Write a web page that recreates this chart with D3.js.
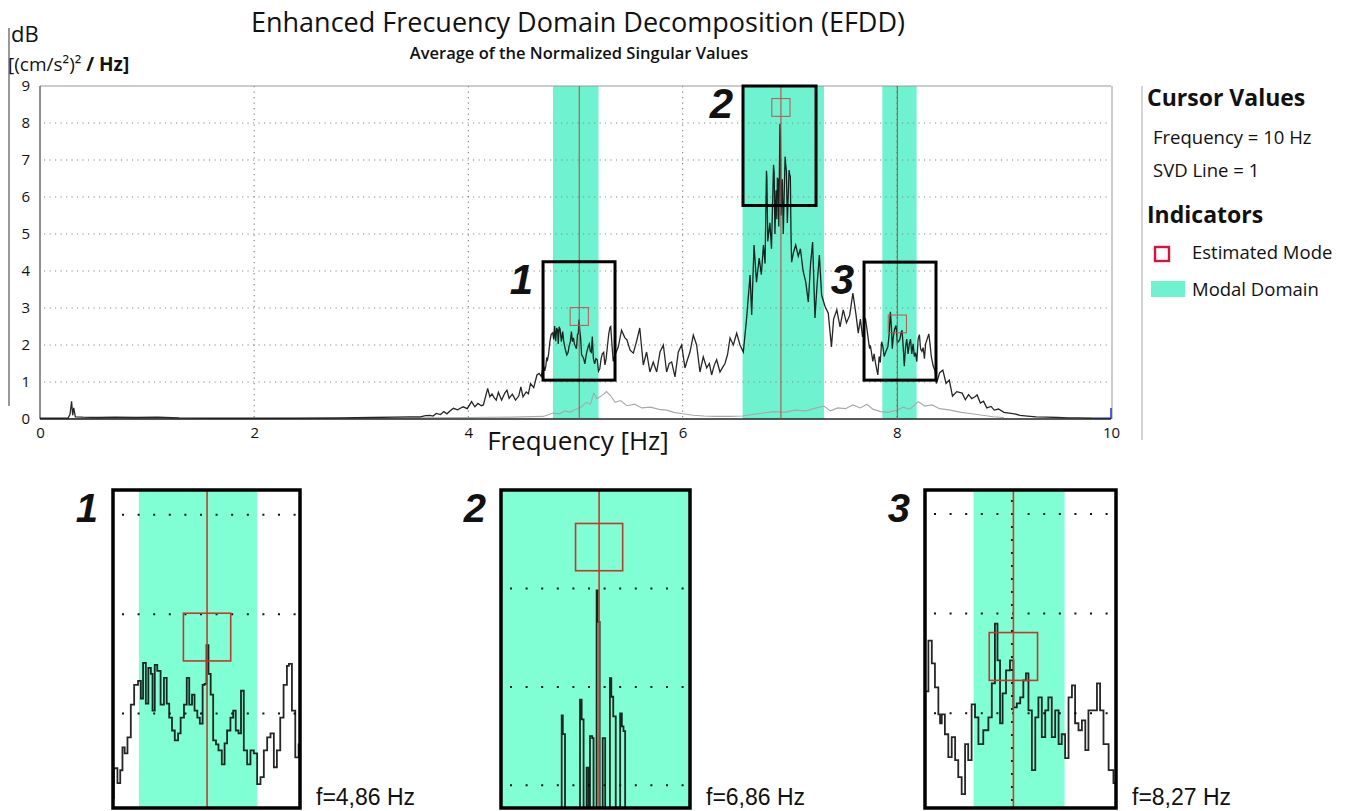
<!DOCTYPE html>
<html>
<head>
<meta charset="utf-8">
<script src="https://cdn.jsdelivr.net/npm/d3@7/dist/d3.min.js"></script>
<style>
  html, body { margin: 0; padding: 0; background: #fff; }
  svg text { font-family: "Open Sans", "Noto Sans", sans-serif; fill: #111; }
  svg text.arial { font-family: "Liberation Sans", Arial, sans-serif; }
</style>
</head>
<body>
<svg id="chart" width="1347" height="811"></svg>
<script>
// first singular value, [Hz, value]
var svd1 = [
  [0.00,0.02],[0.26,0.02],[0.28,0.12],[0.295,0.48],[0.305,0.10],[0.315,0.30],[0.33,0.06],[0.40,0.05],[0.55,0.04],[0.70,0.05],
  [0.90,0.04],[1.10,0.05],[1.30,0.03],[1.60,0.02],[2.00,0.02],[2.40,0.02],[2.80,0.03],[3.10,0.04],[3.30,0.05],[3.45,0.06],
  [3.55,0.06],[3.60,0.09],[3.64,0.10],[3.67,0.08],[3.70,0.15],[3.74,0.12],[3.77,0.20],[3.80,0.14],[3.83,0.22],[3.86,0.29],
  [3.90,0.25],[3.95,0.33],[3.99,0.28],[4.03,0.47],[4.06,0.33],[4.09,0.42],[4.12,0.36],[4.14,0.38],[4.18,0.83],[4.20,0.60],
  [4.22,0.68],[4.24,0.58],[4.26,0.51],[4.28,0.72],[4.31,0.51],[4.34,0.70],[4.36,0.78],[4.38,0.56],[4.41,0.67],[4.44,0.51],
  [4.47,0.62],[4.49,0.87],[4.51,0.60],[4.54,0.73],[4.56,0.68],[4.58,0.96],[4.61,0.85],[4.64,1.19],[4.66,1.23],[4.68,1.15],
  [4.70,1.45],[4.713,1.30],[4.723,1.43],[4.731,1.66],[4.739,1.60],[4.749,1.76],[4.761,2.09],[4.773,2.29],[4.787,2.33],[4.797,2.15],
  [4.805,2.51],[4.815,2.10],[4.824,2.46],[4.833,2.40],[4.839,2.03],[4.847,2.49],[4.856,2.43],[4.868,2.09],[4.880,2.36],[4.890,2.10],
  [4.899,1.96],[4.909,1.83],[4.919,1.73],[4.931,1.80],[4.940,1.96],[4.952,2.09],[4.962,2.36],[4.971,2.09],[4.981,2.19],[4.990,2.03],
  [5.000,1.96],[5.009,1.90],[5.019,2.29],[5.026,2.30],[5.033,2.69],[5.040,2.40],[5.048,2.19],[5.057,1.73],[5.067,1.69],[5.076,1.63],
  [5.088,1.49],[5.098,1.70],[5.107,1.83],[5.119,1.96],[5.129,2.03],[5.138,1.83],[5.148,1.80],[5.157,2.23],[5.167,1.63],[5.179,1.49],
  [5.191,1.63],[5.203,1.60],[5.215,1.29],[5.227,1.36],[5.239,1.63],[5.251,1.76],[5.263,1.80],[5.275,1.46],[5.286,1.63],[5.298,1.96],
  [5.310,2.29],[5.322,2.48],[5.329,2.50],[5.340,2.03],[5.352,1.56],[5.364,1.69],[5.40,1.95],[5.43,2.40],[5.46,2.20],[5.48,2.14],
  [5.51,1.86],[5.54,1.78],[5.57,2.10],[5.60,2.46],[5.633,1.46],[5.664,1.81],[5.695,1.27],[5.726,1.54],[5.758,1.27],[5.789,1.81],
  [5.820,2.00],[5.851,1.27],[5.875,1.50],[5.898,1.54],[5.929,1.14],[5.960,1.81],[5.991,2.00],[6.022,1.38],[6.045,1.60],[6.069,1.81],
  [6.100,2.27],[6.131,2.00],[6.162,1.27],[6.193,1.68],[6.225,1.38],[6.250,1.50],[6.271,1.19],[6.295,1.45],[6.318,1.60],[6.349,1.27],
  [6.375,1.40],[6.396,1.50],[6.420,1.75],[6.443,2.19],[6.474,2.00],[6.505,2.32],[6.536,2.00],[6.567,1.81],[6.598,2.73],[6.630,3.89],
  [6.645,2.81],[6.667,4.70],[6.690,3.70],[6.715,4.35],[6.735,3.90],[6.755,4.70],[6.770,4.20],[6.783,6.71],[6.787,6.52],[6.795,4.80],
  [6.815,5.30],[6.830,4.60],[6.849,6.87],[6.855,6.67],[6.862,5.00],[6.873,6.18],[6.880,5.40],[6.885,6.50],[6.893,6.48],[6.898,5.20],
  [6.909,7.98],[6.913,7.66],[6.920,5.50],[6.931,6.48],[6.940,5.00],[6.957,7.09],[6.962,6.90],[6.969,6.70],[6.978,5.30],[6.994,6.73],
  [7.000,6.60],[7.006,6.55],[7.012,5.00],[7.018,4.24],[7.035,4.50],[7.056,4.70],[7.080,4.40],[7.100,4.60],[7.125,4.00],[7.150,3.70],
  [7.174,3.16],[7.195,4.20],[7.214,4.78],[7.236,2.73],[7.255,3.60],[7.277,4.43],[7.298,3.35],[7.330,3.04],[7.360,2.86],[7.390,1.95],
  [7.410,2.70],[7.440,2.95],[7.470,2.49],[7.500,2.95],[7.530,2.60],[7.560,2.80],[7.590,3.40],[7.620,2.80],[7.640,2.32],[7.660,2.70],
  [7.680,2.22],[7.706,2.73],[7.718,2.50],[7.729,2.26],[7.741,1.99],[7.747,1.90],[7.753,1.99],[7.764,1.79],[7.776,1.56],[7.788,1.76],
  [7.800,1.53],[7.811,1.36],[7.823,1.19],[7.835,1.69],[7.846,1.53],[7.858,2.09],[7.870,1.96],[7.882,1.69],[7.899,1.83],[7.917,1.96],
  [7.929,2.30],[7.940,2.90],[7.949,2.53],[7.958,1.90],[7.967,2.20],[7.979,2.43],[7.993,2.53],[8.005,2.06],[8.017,2.10],[8.029,2.16],
  [8.040,2.33],[8.049,2.40],[8.058,2.03],[8.070,1.43],[8.082,1.96],[8.093,2.16],[8.105,1.76],[8.117,2.03],[8.128,2.16],[8.140,1.76],
  [8.152,2.03],[8.164,1.69],[8.175,1.79],[8.187,1.55],[8.199,2.16],[8.211,2.28],[8.222,1.90],[8.234,1.83],[8.246,1.93],[8.258,1.63],
  [8.269,2.03],[8.299,2.30],[8.310,2.03],[8.322,1.69],[8.340,1.43],[8.357,1.30],[8.37,0.96],[8.40,1.25],[8.43,1.32],[8.46,0.96],
  [8.49,1.05],[8.52,0.62],[8.56,0.74],[8.61,0.70],[8.64,0.52],[8.67,0.66],[8.70,0.55],[8.73,0.60],[8.75,0.65],[8.78,0.43],
  [8.81,0.48],[8.84,0.30],[8.88,0.34],[8.91,0.24],[8.95,0.27],[9.00,0.18],[9.05,0.16],[9.10,0.14],[9.15,0.10],[9.22,0.08],
  [9.30,0.06],[9.40,0.05],[9.50,0.04],[9.60,0.03],[9.70,0.03],[9.83,0.02]
];

// second singular value, [Hz, value]
var svd2 = [
  [0.0,0.01],[1.0,0.01],[2.0,0.01],[3.0,0.02],[3.6,0.03],[4.0,0.04],[4.4,0.05],[4.7,0.07],[4.79,0.16],[4.85,0.14],
  [4.9,0.22],[4.95,0.18],[5.0,0.26],[5.05,0.32],[5.1,0.45],[5.14,0.40],[5.17,0.70],[5.2,0.55],[5.24,0.62],[5.29,0.74],
  [5.33,0.62],[5.37,0.45],[5.42,0.50],[5.48,0.36],[5.55,0.40],[5.62,0.30],[5.7,0.32],[5.78,0.26],[5.85,0.24],[5.92,0.18],
  [6.0,0.14],[6.1,0.10],[6.2,0.08],[6.3,0.07],[6.45,0.07],[6.56,0.08],[6.65,0.12],[6.75,0.16],[6.85,0.20],[6.95,0.18],
  [7.05,0.24],[7.15,0.22],[7.25,0.30],[7.32,0.35],[7.38,0.22],[7.45,0.30],[7.52,0.28],[7.59,0.38],[7.66,0.30],[7.72,0.40],
  [7.78,0.26],[7.85,0.20],[7.92,0.18],[8.0,0.24],[8.06,0.32],[8.12,0.26],[8.2,0.47],[8.26,0.35],[8.33,0.38],[8.4,0.28],
  [8.5,0.24],[8.6,0.18],[8.7,0.14],[8.8,0.10],[8.9,0.06],[9.0,0.04]
];

// cursor tail at the right end of the spectrum
var cursorTail = [[9.83,0.02],[10,0.02],[10,0.3]];

// modal domains [from, to] in Hz
var modalDomains = [[4.79,5.215],[6.56,7.32],[7.865,8.185]];
// estimated modes [Hz, value]
var modePeaks = [[5.035,2.77],[6.918,8.42],[8.005,2.57]];
var modeSquare = [0.085, 0.24]; // half width (Hz), half height
// zoom windows shown below the chart
var zoomFreq = [[4.697,5.369],[6.564,7.246],[7.694,8.366]];
var zoomVal = [[1.05,4.25],[5.77,9.0],[1.05,4.24]];
var zoomNames = ["1","2","3"];
var modeLabels = ["f=4,86 Hz","f=6,86 Hz","f=8,27 Hz"];

var xTicks = [0,2,4,6,8,10];
var yTicks = [0,1,2,3,4,5,6,7,8,9];

var mainGreen = "#6ef2cf";
var insetGreen = "#80ffd5";

var svg = d3.select("#chart");

var x = d3.scaleLinear().domain([0,10]).range([40,1111]);
var y = d3.scaleLinear().domain([0,9]).range([419,86]);

// separators
svg.append("line").attr("x1",9).attr("x2",9).attr("y1",28).attr("y2",406)
    .attr("stroke","#777").attr("stroke-width",1.5);
svg.append("line").attr("x1",1142).attr("x2",1142).attr("y1",86).attr("y2",440)
    .attr("stroke","#aaa").attr("stroke-width",1);

// titles
svg.append("text").attr("x",578).attr("y",32).attr("text-anchor","middle")
    .style("font-size","27px").text("Enhanced Frecuency Domain Decomposition (EFDD)");
svg.append("text").attr("x",579).attr("y",59).attr("text-anchor","middle")
    .style("font-size","16.5px").style("font-weight","600").text("Average of the Normalized Singular Values");
svg.append("text").attr("x",11).attr("y",42).style("font-size","22px").text("dB");
var unit = svg.append("text").attr("x",8).attr("y",71).style("font-size","19px");
unit.append("tspan").text("[(cm/s²)² ");
unit.append("tspan").style("font-weight","700").text("/ Hz]");

// modal domain bands
var plot = svg.append("g");
plot.selectAll("rect.band").data(modalDomains).enter().append("rect")
    .attr("class","band")
    .attr("x", function (d) { return x(d[0]); })
    .attr("width", function (d) { return x(d[1]) - x(d[0]); })
    .attr("y", y(9)).attr("height", y(0) - y(9))
    .attr("fill", mainGreen);

// dotted grid
plot.selectAll("line.hgrid").data(yTicks.slice(1, 9)).enter().append("line")
    .attr("x1", x(0) + 4).attr("x2", x(10))
    .attr("y1", function (d) { return y(d); }).attr("y2", function (d) { return y(d); })
    .attr("stroke","#8a8a8a").attr("stroke-width",1.2).attr("stroke-dasharray","1.2,4.3");
plot.selectAll("line.vgrid").data(xTicks.slice(1, 5)).enter().append("line")
    .attr("x1", function (d) { return x(d); }).attr("x2", function (d) { return x(d); })
    .attr("y1", y(9)).attr("y2", y(0))
    .attr("stroke","#8a8a8a").attr("stroke-width",1.2).attr("stroke-dasharray","1.2,4.3");

// frame
plot.append("line").attr("x1",x(0)).attr("x2",x(10)).attr("y1",y(9)).attr("y2",y(9)).attr("stroke","#999");
plot.append("line").attr("x1",x(10)+1).attr("x2",x(10)+1).attr("y1",y(9)).attr("y2",y(0)).attr("stroke","#999");

var line = d3.line().x(function (d) { return x(d[0]); }).y(function (d) { return y(d[1]); });

plot.append("path").datum(svd2).attr("d", line)
    .attr("fill","none").attr("stroke","#a9a9a9").attr("stroke-width",1.1);
plot.append("path").datum(svd1).attr("d", line)
    .attr("fill","none").attr("stroke","#000").attr("stroke-opacity",0.85).attr("stroke-width",1.3);
plot.append("path").datum(cursorTail).attr("d", line)
    .attr("fill","none").attr("stroke","#2233cc").attr("stroke-width",1.5);

plot.append("line").attr("x1",x(0)).attr("x2",x(0)).attr("y1",y(9)).attr("y2",y(0)).attr("stroke","#222");
plot.append("line").attr("x1",x(0)).attr("x2",x(10)).attr("y1",y(0)).attr("y2",y(0)).attr("stroke","#222").attr("stroke-width",1.5);

// cursor lines + estimated modes
plot.selectAll("line.cursor").data(modePeaks).enter().append("line")
    .attr("x1", function (d) { return x(d[0]); }).attr("x2", function (d) { return x(d[0]); })
    .attr("y1", y(9)).attr("y2", y(0))
    .attr("stroke","#b5483a").attr("stroke-width",1);
plot.selectAll("rect.mode").data(modePeaks).enter().append("rect")
    .attr("x", function (d) { return x(d[0] - modeSquare[0]); })
    .attr("y", function (d) { return y(d[1] + modeSquare[1]); })
    .attr("width", function (d) { return x(d[0] + modeSquare[0]) - x(d[0] - modeSquare[0]); })
    .attr("height", function (d) { return y(d[1] - modeSquare[1]) - y(d[1] + modeSquare[1]); })
    .attr("fill","none").attr("stroke","#b8584c").attr("stroke-width",1);

// zoom boxes
plot.selectAll("rect.zoombox").data(zoomFreq).enter().append("rect")
    .attr("x", function (d) { return x(d[0]); })
    .attr("y", function (d, i) { return y(zoomVal[i][1]); })
    .attr("width", function (d) { return x(d[1]) - x(d[0]); })
    .attr("height", function (d, i) { return y(zoomVal[i][0]) - y(zoomVal[i][1]); })
    .attr("fill","none").attr("stroke","#000").attr("stroke-width",3);
plot.selectAll("text.zoomname").data(zoomFreq).enter().append("text")
    .attr("class","arial")
    .attr("x", function (d) { return x(d[0]) - 10; })
    .attr("y", function (d, i) { return y(zoomVal[i][1]) + 32; })
    .attr("text-anchor","end")
    .style("font-size","42px").style("font-weight","700").style("font-style","italic")
    .text(function (d, i) { return zoomNames[i]; });

// axes
var xAxis = svg.append("g").attr("transform","translate(0," + y(0) + ")")
    .call(d3.axisBottom(x).tickValues(xTicks).tickSize(0).tickPadding(8));
xAxis.select(".domain").remove();
xAxis.selectAll("text").style("font-size","15px").attr("fill","#111");
var yAxis = svg.append("g").attr("transform","translate(" + (x(0) - 3) + ",0)")
    .call(d3.axisLeft(y).tickValues(yTicks).tickSize(0).tickPadding(7));
yAxis.select(".domain").remove();
yAxis.selectAll("text").style("font-size","15px").attr("fill","#111");

svg.append("text").attr("x",578).attr("y",450).attr("text-anchor","middle")
    .style("font-size","26px").text("Frequency [Hz]");

// legend
var lg = svg.append("g");
lg.append("text").attr("x",1147).attr("y",106).style("font-size","23px").style("font-weight","700").text("Cursor Values");
lg.append("text").attr("x",1153).attr("y",144).style("font-size","18.5px").text("Frequency = 10 Hz");
lg.append("text").attr("x",1153).attr("y",177).style("font-size","18.5px").text("SVD Line = 1");
lg.append("text").attr("x",1147).attr("y",223).style("font-size","23px").style("font-weight","700").text("Indicators");
lg.append("rect").attr("x",1155).attr("y",247).attr("width",14).attr("height",14)
    .attr("fill","none").attr("stroke","#e0103c").attr("stroke-width",2.4);
lg.append("text").attr("x",1192).attr("y",259).style("font-size","18.5px").text("Estimated Mode");
lg.append("rect").attr("x",1151).attr("y",281).attr("width",34).attr("height",16).attr("fill",mainGreen);
lg.append("text").attr("x",1192).attr("y",296).style("font-size","18.5px").text("Modal Domain");

// zoomed insets
var insetX = [[113,300],[501,690],[925,1116]];
var insetTop = 490, insetBottom = 808;

zoomFreq.forEach(function (dom, i) {
    var xi = d3.scaleLinear().domain(dom).range(insetX[i]);
    var yi = d3.scaleLinear().domain(zoomVal[i]).range([insetBottom, insetTop]);
    var g = svg.append("g");
    var clipId = "clip" + i;
    svg.append("clipPath").attr("id", clipId).append("rect")
        .attr("x", insetX[i][0]).attr("y", insetTop)
        .attr("width", insetX[i][1] - insetX[i][0]).attr("height", insetBottom - insetTop);
    var inner = g.append("g").attr("clip-path","url(#" + clipId + ")");

    inner.append("rect")
        .attr("x", xi(modalDomains[i][0])).attr("width", xi(modalDomains[i][1]) - xi(modalDomains[i][0]))
        .attr("y", insetTop).attr("height", insetBottom - insetTop)
        .attr("fill", insetGreen);

    var hg = yTicks.filter(function (v) { return v > zoomVal[i][0] && v < zoomVal[i][1]; });
    inner.selectAll("line.h").data(hg).enter().append("line")
        .attr("x1", insetX[i][0] + 9).attr("x2", insetX[i][1])
        .attr("y1", function (d) { return yi(d); }).attr("y2", function (d) { return yi(d); })
        .attr("stroke","#111").attr("stroke-width",2).attr("stroke-dasharray","2,13.6");
    var vg = xTicks.filter(function (v) { return v > dom[0] && v < dom[1]; });
    inner.selectAll("line.v").data(vg).enter().append("line")
        .attr("x1", function (d) { return xi(d); }).attr("x2", function (d) { return xi(d); })
        .attr("y1", insetTop + 10).attr("y2", insetBottom)
        .attr("stroke","#111").attr("stroke-width",2).attr("stroke-dasharray","2,11");

    var il = d3.line().curve(d3.curveStepAfter)
        .x(function (d) { return xi(d[0]); }).y(function (d) { return yi(d[1]); });
    inner.append("path").datum(svd1).attr("d", il)
        .attr("fill","none").attr("stroke","#000").attr("stroke-opacity",0.85).attr("stroke-width",1.8);

    var p = modePeaks[i];
    inner.append("line").attr("x1", xi(p[0])).attr("x2", xi(p[0]))
        .attr("y1", insetTop).attr("y2", insetBottom)
        .attr("stroke","#d2382a").attr("stroke-width",1.6);
    inner.append("rect")
        .attr("x", xi(p[0] - modeSquare[0])).attr("y", yi(p[1] + modeSquare[1]))
        .attr("width", xi(p[0] + modeSquare[0]) - xi(p[0] - modeSquare[0]))
        .attr("height", yi(p[1] - modeSquare[1]) - yi(p[1] + modeSquare[1]))
        .attr("fill","none").attr("stroke","#c0392b").attr("stroke-width",1.6);

    g.append("rect").attr("x", insetX[i][0]).attr("y", insetTop)
        .attr("width", insetX[i][1] - insetX[i][0]).attr("height", insetBottom - insetTop)
        .attr("fill","none").attr("stroke","#000").attr("stroke-width",3.5);

    g.append("text").attr("class","arial")
        .attr("x", insetX[i][0] - 15).attr("y", insetTop + 32).attr("text-anchor","end")
        .style("font-size","40px").style("font-weight","700").style("font-style","italic")
        .text(zoomNames[i]);
    g.append("text").attr("class","arial")
        .attr("x", insetX[i][1] + 16).attr("y", 805)
        .style("font-size","23px").text(modeLabels[i]);
});
</script>
</body>
</html>
